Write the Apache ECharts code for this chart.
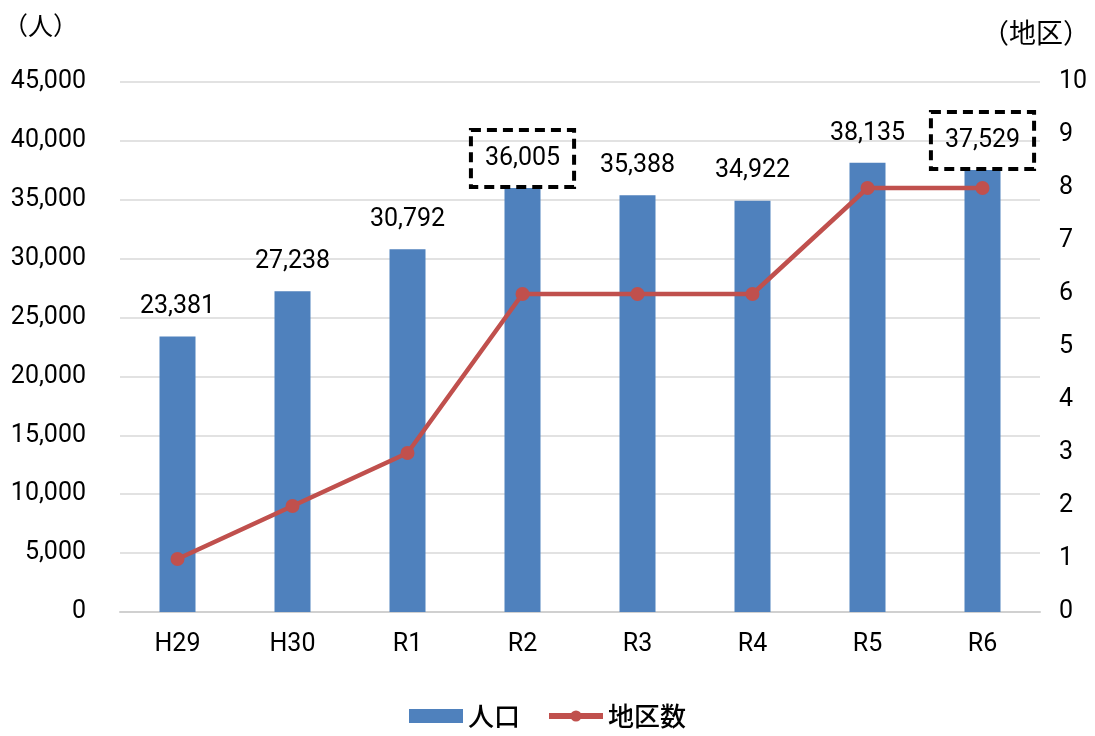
<!DOCTYPE html>
<html><head><meta charset="utf-8">
<script src="https://cdn.jsdelivr.net/npm/echarts@6/dist/echarts.min.js"></script>
<style>html,body{margin:0;padding:0;background:#fff}#c{width:1095px;height:736px}</style>
</head><body><div id="c"></div>
<script>
const categories = ['H29','H30','R1','R2','R3','R4','R5','R6'];
const population = [23381, 27238, 30792, 36005, 35388, 34922, 38135, 37529];
const districts = [1, 2, 3, 6, 6, 6, 8, 8];
const boxedIndices = [3, 7];
const leftTicks = {min: 0, max: 45000, interval: 5000};
const rightTicks = {min: 0, max: 10, interval: 1};

const FONT = 'Roboto, "Noto Sans CJK JP", sans-serif';
const CJK = '"Noto Sans CJK JP", sans-serif';
const chart = echarts.init(document.getElementById('c'));

const barData = population.map((v, i) => {
  if (boxedIndices.includes(i)) {
    return {value: v, label: {distance: 1, padding: [16, 14, 16, 14], borderColor: '#000', borderWidth: 4, borderType: [10, 6], borderCap: 'square'}};
  }
  return v;
});

chart.setOption({
  animation: false,
  textStyle: {fontFamily: FONT},
  grid: {left: 120, right: 55, top: 82, bottom: 124, outerBoundsMode: 'none', containLabel: false},
  legend: {
    bottom: 2, left: 'center', itemGap: 26, itemWidth: 54, itemHeight: 14,
    textStyle: {fontSize: 26, color: '#000', fontFamily: CJK, fontWeight: 500},
    lineStyle: {width: 6},
    data: [{name: '人口', icon: 'rect'}, {name: '地区数'}]
  },
  xAxis: {
    type: 'category', data: categories,
    axisLine: {lineStyle: {color: '#d0d0d0', width: 2}},
    axisTick: {show: false},
    axisLabel: {fontSize: 25, color: '#000', margin: 20}
  },
  yAxis: [
    {
      type: 'value', min: leftTicks.min, max: leftTicks.max, interval: leftTicks.interval,
      name: '（人）', nameLocation: 'end', nameGap: 44,
      nameTextStyle: {fontSize: 25, color: '#000', fontFamily: CJK, align: 'right', padding: [0, 42, 0, 0]},
      axisLabel: {fontSize: 25, color: '#000', margin: 34, formatter: v => v.toLocaleString('en-US')},
      splitLine: {lineStyle: {color: '#d9d9d9', width: 1.5}},
      axisLine: {show: false}, axisTick: {show: false}
    },
    {
      type: 'value', min: rightTicks.min, max: rightTicks.max, interval: rightTicks.interval,
      name: '（地区）', nameLocation: 'end', nameGap: 36,
      nameTextStyle: {fontSize: 27, color: '#000', fontFamily: CJK, align: 'left', padding: [0, 0, 0, -58]},
      axisLabel: {fontSize: 25, color: '#000', margin: 19},
      splitLine: {show: false},
      axisLine: {show: false}, axisTick: {show: false}
    }
  ],
  series: [
    {
      name: '人口', type: 'bar', data: barData, barWidth: 36,
      itemStyle: {color: '#4f81bd'},
      label: {show: true, position: 'top', distance: 17, fontSize: 25, color: '#000', formatter: p => p.value.toLocaleString('en-US')}
    },
    {
      name: '地区数', type: 'line', yAxisIndex: 1, data: districts,
      symbol: 'circle', symbolSize: 14,
      lineStyle: {color: '#c0504d', width: 4.5},
      itemStyle: {color: '#c0504d'}
    }
  ]
});
</script></body></html>
